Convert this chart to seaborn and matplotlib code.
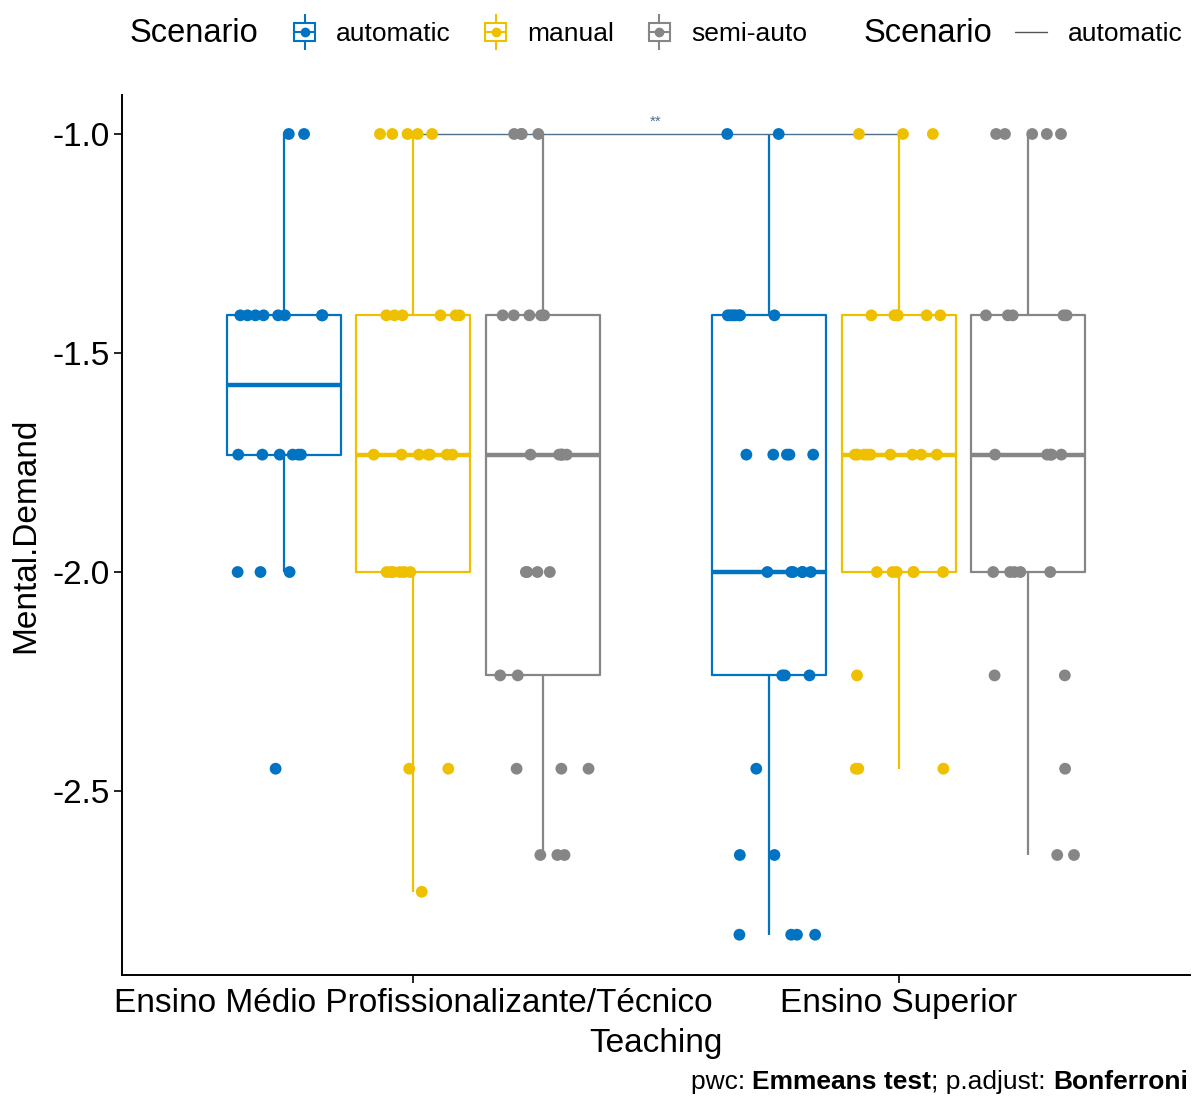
import numpy as np
import pandas as pd
import matplotlib as mpl
import matplotlib.pyplot as plt
import seaborn as sns
from matplotlib.lines import Line2D
from matplotlib.patches import Patch
from matplotlib.legend_handler import HandlerTuple

mpl.use('Agg')

# Data: observed Mental.Demand levels and how many points sit on each
teaching = ['Ensino Médio Profissionalizante/Técnico', 'Ensino Superior']
scenarios = ['automatic', 'manual', 'semi-auto']
colors = ['#0073C2', '#EFC000', '#868686']

medio_auto_vals = [-1.0, -1.414, -1.732, -2.0, -2.449]
medio_auto_n = [2, 8, 6, 3, 1]
medio_manual_vals = [-1.0, -1.414, -1.732, -2.0, -2.449, -2.73]
medio_manual_n = [5, 6, 7, 6, 2, 1]
medio_semi_vals = [-1.0, -1.414, -1.732, -2.0, -2.236, -2.449, -2.646]
medio_semi_n = [4, 5, 6, 4, 2, 3, 3]

sup_auto_vals = [-1.0, -1.414, -1.732, -2.0, -2.236, -2.449, -2.646, -2.828]
sup_auto_n = [2, 7, 5, 6, 3, 1, 2, 4]
sup_manual_vals = [-1.0, -1.414, -1.732, -2.0, -2.236, -2.449]
sup_manual_n = [3, 6, 9, 6, 1, 3]
sup_semi_vals = [-1.0, -1.414, -1.732, -2.0, -2.236, -2.449, -2.646]
sup_semi_n = [5, 5, 5, 5, 2, 1, 2]

groups = [
    (teaching[0], 'automatic', medio_auto_vals, medio_auto_n),
    (teaching[0], 'manual', medio_manual_vals, medio_manual_n),
    (teaching[0], 'semi-auto', medio_semi_vals, medio_semi_n),
    (teaching[1], 'automatic', sup_auto_vals, sup_auto_n),
    (teaching[1], 'manual', sup_manual_vals, sup_manual_n),
    (teaching[1], 'semi-auto', sup_semi_vals, sup_semi_n),
]
rows = []
for t, s, vals, ns in groups:
    for v in np.repeat(vals, ns):
        rows.append({'Teaching': t, 'Scenario': s, 'Mental.Demand': v})
df = pd.DataFrame(rows)

sig_label = '**'
bracket_color = '#50708C'

sns.set_style('ticks')
plt.rcParams['font.family'] = ['Liberation Sans', 'DejaVu Sans']
plt.rcParams['axes.unicode_minus'] = False
plt.rcParams['text.color'] = 'black'
plt.rcParams['axes.labelcolor'] = 'black'

fig = plt.figure(figsize=(11.93, 10.97), dpi=100)
ax = fig.add_axes([0.1023, 0.1112, 0.8952, 0.8022])

palette = dict(zip(scenarios, colors))
sns.boxplot(data=df, x='Teaching', y='Mental.Demand', hue='Scenario',
            order=teaching, hue_order=scenarios, palette=palette,
            saturation=1, fill=False, width=0.8, gap=0.12,
            showcaps=False, showfliers=False, linewidth=1.6,
            medianprops={'linewidth': 3.2}, legend=False, ax=ax)

np.random.seed(3)
sns.stripplot(data=df, x='Teaching', y='Mental.Demand', hue='Scenario',
              order=teaching, hue_order=scenarios, palette=palette,
              dodge=True, jitter=0.3, size=8.5, linewidth=0,
              legend=False, zorder=3, ax=ax)

# significance bracket (automatic: Médio vs Superior)
ytop = df['Mental.Demand'].max()
ax.plot([0, 1], [ytop, ytop], color=bracket_color, lw=1.0, zorder=2.5)
ax.annotate(sig_label, xy=(0.5, ytop), xytext=(0, 4), textcoords='offset points',
            ha='center', va='bottom', fontsize=11, color=bracket_color)

ax.set_xlim(-0.6, 1.6)
ax.set_ylim(-2.92, -0.911)
ax.set_yticks([-2.5, -2.0, -1.5, -1.0])
ax.set_yticklabels(['-2.5', '-2.0', '-1.5', '-1.0'])
sns.despine(ax=ax)
for side in ['left', 'bottom']:
    ax.spines[side].set_linewidth(1.4)
    ax.spines[side].set_color('black')
ax.tick_params(axis='both', labelsize=24, length=6, width=1.2, colors='black', pad=3)
ax.set_xlabel('Teaching', fontsize=24, labelpad=7)
ax.set_ylabel('Mental.Demand', fontsize=24, labelpad=8)

# legends
ly = 1 - 34 / 1097
fig.text(130 / 1193, ly, 'Scenario', ha='left', va='center', fontsize=23.5)
handles = []
for c in colors:
    handles.append((Line2D([], [], marker='|', color=c, ls='none', markersize=26, mew=1.5),
                    Patch(facecolor='white', edgecolor=c, lw=1.5),
                    Line2D([], [], color=c, lw=1.5),
                    Line2D([], [], marker='o', color=c, ls='none', markersize=6)))
fig.legend(handles, scenarios, loc='center left', bbox_to_anchor=(294 / 1193, ly),
           ncol=3, frameon=False, fontsize=19, handlelength=0.8, handleheight=0.7,
           handletextpad=0.8, columnspacing=1.3, borderpad=0, borderaxespad=0,
           handler_map={tuple: HandlerTuple(ndivide=1, pad=0)})
fig.text(864 / 1193, ly, 'Scenario', ha='left', va='center', fontsize=23.5)
fig.legend([Line2D([], [], color='#555555', lw=1.0)], ['automatic'], loc='center left',
           bbox_to_anchor=(1015 / 1193, ly), frameon=False, fontsize=19,
           handlelength=1.2, handletextpad=0.8, borderpad=0, borderaxespad=0)

# caption with bold parts, chained from the right edge
t = fig.text(1188 / 1193, 1 - 1082 / 1097, 'Bonferroni', ha='right', va='center',
             fontsize=19, fontweight='bold')
prev = t
for txt, w in [('; p.adjust: ', 'normal'), ('Emmeans test', 'bold'), ('pwc: ', 'normal')]:
    prev = ax.annotate(txt, xy=(0, 0), xycoords=prev, ha='right', va='bottom',
                       fontsize=19, fontweight=w, annotation_clip=False)

fig.savefig('out.png', dpi=100)
